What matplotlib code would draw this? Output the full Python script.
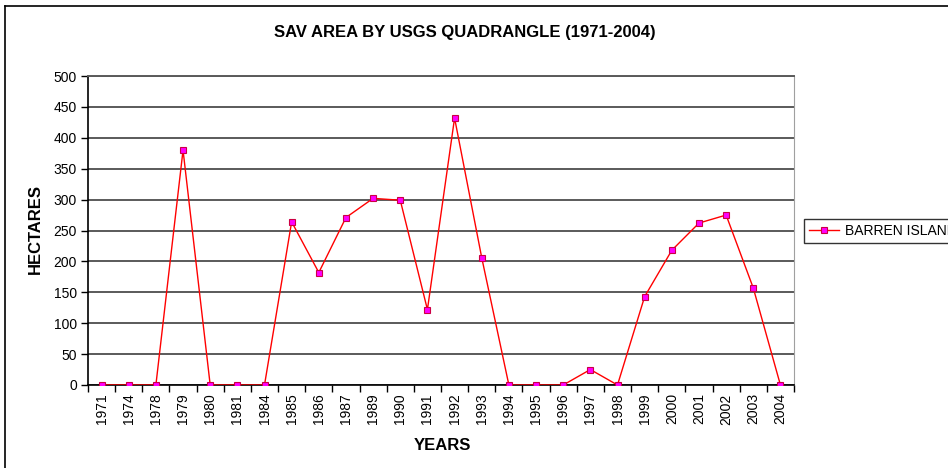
import matplotlib
matplotlib.use('Agg')
import matplotlib.pyplot as plt
from matplotlib.lines import Line2D
from matplotlib.ticker import MultipleLocator

plt.rcParams['font.family'] = ['Liberation Sans', 'DejaVu Sans']

# SAV area per survey year, Barren Island quadrangle
years = ['1971', '1974', '1978', '1979', '1980', '1981', '1984', '1985', '1986',
         '1987', '1989', '1990', '1991', '1992', '1993', '1994', '1995', '1996',
         '1997', '1998', '1999', '2000', '2001', '2002', '2003', '2004']
hectares = [0, 0, 0, 380, 0, 0, 0, 264, 182, 271, 302, 299, 122, 432, 206,
            0, 0, 0, 25, 0, 143, 218, 262, 275, 157, 0]
series_name = 'BARREN ISLAND'

fig = plt.figure(figsize=(9.48, 4.68), dpi=100)
ax = fig.add_axes([88 / 948, 1 - 385 / 468, (794 - 88) / 948, (385 - 76) / 468])

x = list(range(len(years)))
ax.plot(x, hectares, color='#ff0000', lw=1.0, marker='s', markersize=4.5,
        markerfacecolor='#ff00ff', markeredgecolor='#cc0044', markeredgewidth=0.8,
        label=series_name, zorder=5)

ax.set_xlim(-0.5, len(years) - 0.5)
ax.set_ylim(0, 500)

# category labels centred, tick marks between categories
ax.set_xticks(x)
ax.set_xticklabels(years, rotation=90, fontsize=10)
ax.set_xticks([i - 0.5 for i in range(len(years) + 1)], minor=True)
ax.tick_params(axis='x', which='major', length=0, pad=6)
ax.tick_params(axis='x', which='minor', length=5, width=1, color='black', direction='out')

ax.yaxis.set_major_locator(MultipleLocator(50))
ax.tick_params(axis='y', which='major', length=5, width=1, labelsize=10, pad=3)

ax.grid(axis='y', color='#5a5a5a', lw=1.4, zorder=0)
ax.set_axisbelow(True)

ax.spines['left'].set_color('black')
ax.spines['bottom'].set_color('black')
ax.spines['left'].set_linewidth(1.2)
ax.spines['bottom'].set_linewidth(1.2)
ax.spines['right'].set_color('#a0a0a0')
ax.spines['top'].set_color('#5a5a5a')
ax.spines['top'].set_linewidth(1.4)

fig.text(465 / 948, 1 - 32 / 468, 'SAV AREA BY USGS QUADRANGLE (1971-2004)',
         ha='center', va='center', fontsize=12, fontweight='bold')
fig.text(35 / 948, 1 - 229 / 468, 'HECTARES', rotation=90,
         ha='center', va='center', fontsize=12, fontweight='bold')
fig.text(442 / 948, 1 - 445 / 468, 'YEARS',
         ha='center', va='center', fontsize=12, fontweight='bold')

leg = fig.legend(loc='upper left', bbox_to_anchor=(804 / 948, 1 - 219 / 468),
                 fontsize=10, frameon=True, fancybox=False, borderpad=0.35,
                 handlelength=2.2, handletextpad=0.4, borderaxespad=0)
leg.get_frame().set_edgecolor('black')
leg.get_frame().set_linewidth(1.0)

# outer chart border (top and left edges visible)
fig.add_artist(Line2D([5 / 948, 5 / 948], [0, 1 - 6 / 468], color='black', lw=1.2,
                      transform=fig.transFigure))
fig.add_artist(Line2D([5 / 948, 1], [1 - 6 / 468, 1 - 6 / 468], color='black', lw=1.2,
                      transform=fig.transFigure))

fig.savefig('out.png', dpi=100)
